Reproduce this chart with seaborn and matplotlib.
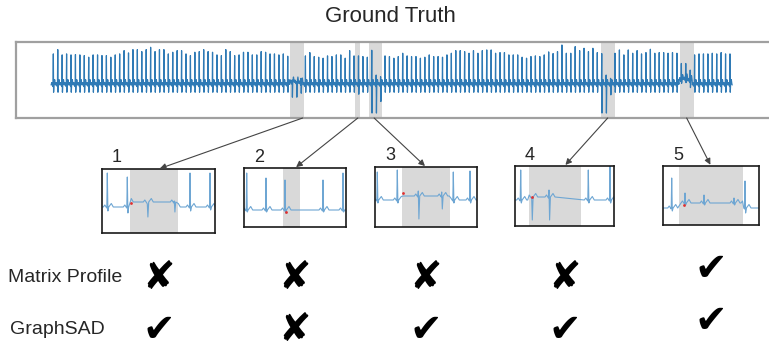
import matplotlib
matplotlib.use("Agg")
import matplotlib.pyplot as plt
from matplotlib.patches import ConnectionPatch
import numpy as np
import pandas as pd
import seaborn as sns

# ---- data ----------------------------------------------------------------
# main ECG trace: R-peak height of every beat (beat k has its R peak at x = k)
r_heights = [
    0.94, 1.07, 0.91, 0.94, 0.91, 0.92, 0.91, 0.89, 0.84, 0.91,
    0.91, 0.89, 0.89, 0.84, 0.91, 0.94, 1.04, 0.97, 1.07, 1.07,
    1.01, 1.07, 1.14, 1.01, 1.07, 1.07, 0.94, 0.99, 1.04, 1.04,
    0.94, 0.89, 0.99, 1.01, 1.07, 1.01, 0.99, 0.91, 0.89, 1.07,
    1.01, 0.89, 0.91, 0.99, 0.99, 0.91, 0.91, 1.01, 0.99, 0.94,
    0.94, 0.91, 0.94, 0.87,
    0.15, 0.10, 0.20,                                   # anomaly 1
    0.88, 0.98, 0.86, 0.84, 0.81, 0.88, 0.86, 0.91, 0.91, 0.81,
    1.04, 0.88, 0.88, 0.86, 0.84,
    1.05, 0.30, 0.25,                                   # anomaly 3
    0.88, 0.86, 0.81, 0.86, 0.96, 0.88, 0.86, 0.86, 0.81, 0.84,
    0.91, 0.86, 0.86, 0.84, 0.91, 0.96, 1.04, 1.04, 1.01, 0.96,
    1.04, 0.96, 1.04, 1.06, 1.06, 0.96, 0.98, 0.98, 0.91, 0.91,
    0.91, 0.84, 0.81, 0.86, 0.88, 0.86, 0.91,
    1.00, 0.95, 1.01, 1.21, 0.96, 0.96, 1.16, 1.04, 1.11, 1.01,
    1.11, 0.98,
    0.95, 0.30, 0.20,                                   # anomaly 4
    0.96, 1.06, 0.91, 1.06, 0.96, 1.04, 0.94, 0.98, 1.08, 0.96,
    0.98, 0.98, 0.96, 0.98, 0.96,
    0.65, 0.65, 0.45,                                   # anomaly 5
    0.91, 0.94, 0.94, 0.94, 0.96, 0.94, 0.98, 0.94, 0.94,
]
s_default = -0.22
s_anomalous = {54: -0.45, 55: -0.45, 56: -0.30, 69: -0.28,
               72: -0.85, 73: -0.85, 74: -0.50,
               124: -0.85, 125: -0.85, 126: -0.30,
               142: -0.10, 143: -0.10, 144: -0.20}
lift_anomalous = {54: 0.08, 55: 0.08, 56: 0.05, 142: 0.15, 143: 0.17, 144: 0.12}

# ground truth anomaly windows (in beats)
windows = [(53.5, 56.7), (68.3, 69.4), (71.3, 74.4), (123.8, 126.9), (141.6, 144.8)]

# zoomed views: beat positions, R tops, S depths, shaded span, baseline lift in span
inset_pos = [[5.3, 25.3, 45.3, 72.3, 88, 108],
             [2.7, 22, 41, 79, 99],
             [2.3, 22.3, 43.3, 66.7, 78.3, 95],
             [5.7, 16.7, 34, 73.3, 95],
             [8.7, 22, 41, 71, 82]]
inset_r = [[34, 30, 3, 6, 34, 34],
           [37, 32, 30, 30, 37],
           [28, 30, 9, 8, 28, 29],
           [30, 2, 10, 30, 36],
           [30, 15, 13, 10, 27]]
inset_s = [[-4, -6, -15, -10, -4, -3],
           [-2, -2, -3, -2, -2],
           [-3, -3, -23, -13, -3, -3],
           [-3, -23, -23, -3, -3],
           [-3, -2, -2, -2, -5]]
inset_span = [(28, 76), (39, 56), (27, 75), (14, 66), (16, 80)]
inset_lift = [5, 0, 4, 3, 5]
# first flagged sample in each view (red dot)
inset_flag = [(28.7, 3.7), (42, -1.7), (28.3, 7.3), (16.7, 2.7), (21.3, 2.6)]

inset_names = ["1", "2", "3", "4", "5"]
methods = ["Matrix Profile", "GraphSAD"]
detected = [[False, False, False, False, True],
            [True, False, True, True, True]]

# ---- layout (pixels of a 769x349 canvas) ----------------------------------
W, H = 769, 349
main_box = (16, 42, 772, 118)            # left, top, right, bottom
inset_boxes = [(102, 169, 215, 233), (244, 168, 346, 227), (375, 167, 477, 227),
               (515, 166, 614, 226), (663, 166, 759, 225)]
inset_ylims = [(-26, 38), (-17, 42), (-27, 33), (-26, 34), (-17, 42)]
arrow_anchor = [0.9, 0.5, 0.4, 0.5, 0.5]
row_y = [278, 330]
mark_lift = [0, 0, 0, 0, 9]
SHADE = "#d9d9d9"
LINE = "#2f7ab5"
LIGHT = "#6ea6d3"


def px_rect(box):
    l, t, r, b = box
    return [l / W, 1 - b / H, (r - l) / W, (b - t) / H]


def main_trace():
    offs = [-0.5, -0.36, -0.24, -0.07, 0.0, 0.06, 0.14, 0.30, 0.44]
    xs, ys = [], []
    for k, r in enumerate(r_heights):
        s = s_anomalous.get(k, s_default)
        lift = lift_anomalous.get(k, 0.0)
        vals = [0, 0.07, 0, -0.05, r, s, 0, 0.16, 0.02]
        for i, (o, v) in enumerate(zip(offs, vals)):
            xs.append(k + o)
            ys.append(v if i == 4 else v + lift)
    xs.append(len(r_heights) - 0.5)
    ys.append(0)
    return pd.DataFrame({"t": xs, "v": ys})


def inset_trace(pos, rr, ss, span, lift, width):
    offs = [-4, -2.5, -1.2, -0.5, 0, 0.6, 1.4, 4, 6]
    xs, ys = [0], [0]
    for p, r, s in zip(pos, rr, ss):
        vals = [0, 2, 0, -1, r, s, 0, 3.5, 0]
        for i, (o, v) in enumerate(zip(offs, vals)):
            x = p + o
            in_span = span[0] <= x <= span[1]
            xs.append(x)
            ys.append(v + (lift if in_span and i != 4 else 0))
    xs.append(width)
    ys.append(0)
    return pd.DataFrame({"t": xs, "v": ys}).sort_values("t")


sns.set_style("white")
plt.rcParams["font.family"] = ["Liberation Sans", "DejaVu Sans"]

fig = plt.figure(figsize=(W / 100, H / 100), dpi=100)

# ---- main panel -----------------------------------------------------------
ax = fig.add_axes(px_rect(main_box))
for a, b in windows:
    ax.axvspan(a, b, color=SHADE, lw=0, zorder=0)
sig = main_trace()
sns.lineplot(data=sig, x="t", y="v", ax=ax, color=LINE, linewidth=0.9,
             estimator=None, sort=False)
ax.set_xlim(-8.44, 162.5)
ax.set_ylim(-1.0, 1.30)
ax.set_xticks([])
ax.set_yticks([])
ax.set_xlabel("")
ax.set_ylabel("")
for sp in ax.spines.values():
    sp.set_color("#a0a0a0")
    sp.set_linewidth(1.6)
fig.text(390 / W, 1 - 16 / H, "Ground Truth", ha="center", va="center", fontsize=16)

# ---- zoomed views ---------------------------------------------------------
for i, box in enumerate(inset_boxes):
    iax = fig.add_axes(px_rect(box))
    width = box[2] - box[0]
    iax.axvspan(*inset_span[i], color=SHADE, lw=0, zorder=0)
    tr = inset_trace(inset_pos[i], inset_r[i], inset_s[i], inset_span[i],
                     inset_lift[i], width)
    sns.lineplot(data=tr, x="t", y="v", ax=iax, color=LIGHT, linewidth=0.8,
                 estimator=None, sort=False)
    iax.scatter([inset_flag[i][0]], [inset_flag[i][1]], s=4, color="#e03030",
                zorder=3, lw=0)
    iax.set_xlim(0, width)
    iax.set_ylim(*inset_ylims[i])
    iax.set_xticks([])
    iax.set_yticks([])
    iax.set_xlabel("")
    iax.set_ylabel("")
    for sp in iax.spines.values():
        sp.set_color("#1a1a1a")
        sp.set_linewidth(1.2)
    fig.text((box[0] + 15) / W, 1 - (box[1] - 11) / H, inset_names[i],
             ha="center", va="center", fontsize=13)

    a, b = windows[i]
    xa = a + arrow_anchor[i] * (b - a)
    con = ConnectionPatch(xyA=(xa, -1.0), coordsA="data", axesA=ax,
                          xyB=(0.5, 1.0), coordsB="axes fraction", axesB=iax,
                          arrowstyle="-|>", mutation_scale=9, color="#444444",
                          linewidth=0.8, shrinkA=0, shrinkB=1)
    fig.add_artist(con)

    # detection marks
    cx = (box[0] + box[2]) / 2
    for j, row in enumerate(detected):
        mark = "\u2714" if row[i] else "\u2718"
        fig.text(cx / W, 1 - (row_y[j] - mark_lift[i]) / H, mark,
                 ha="center", va="center", fontsize=28, family="DejaVu Sans",
                 color="black")

fig.text(8 / W, 1 - row_y[0] / H, methods[0], ha="left", va="center", fontsize=14)
fig.text(10 / W, 1 - row_y[1] / H, methods[1], ha="left", va="center", fontsize=14)

fig.savefig("out.png", dpi=100)
